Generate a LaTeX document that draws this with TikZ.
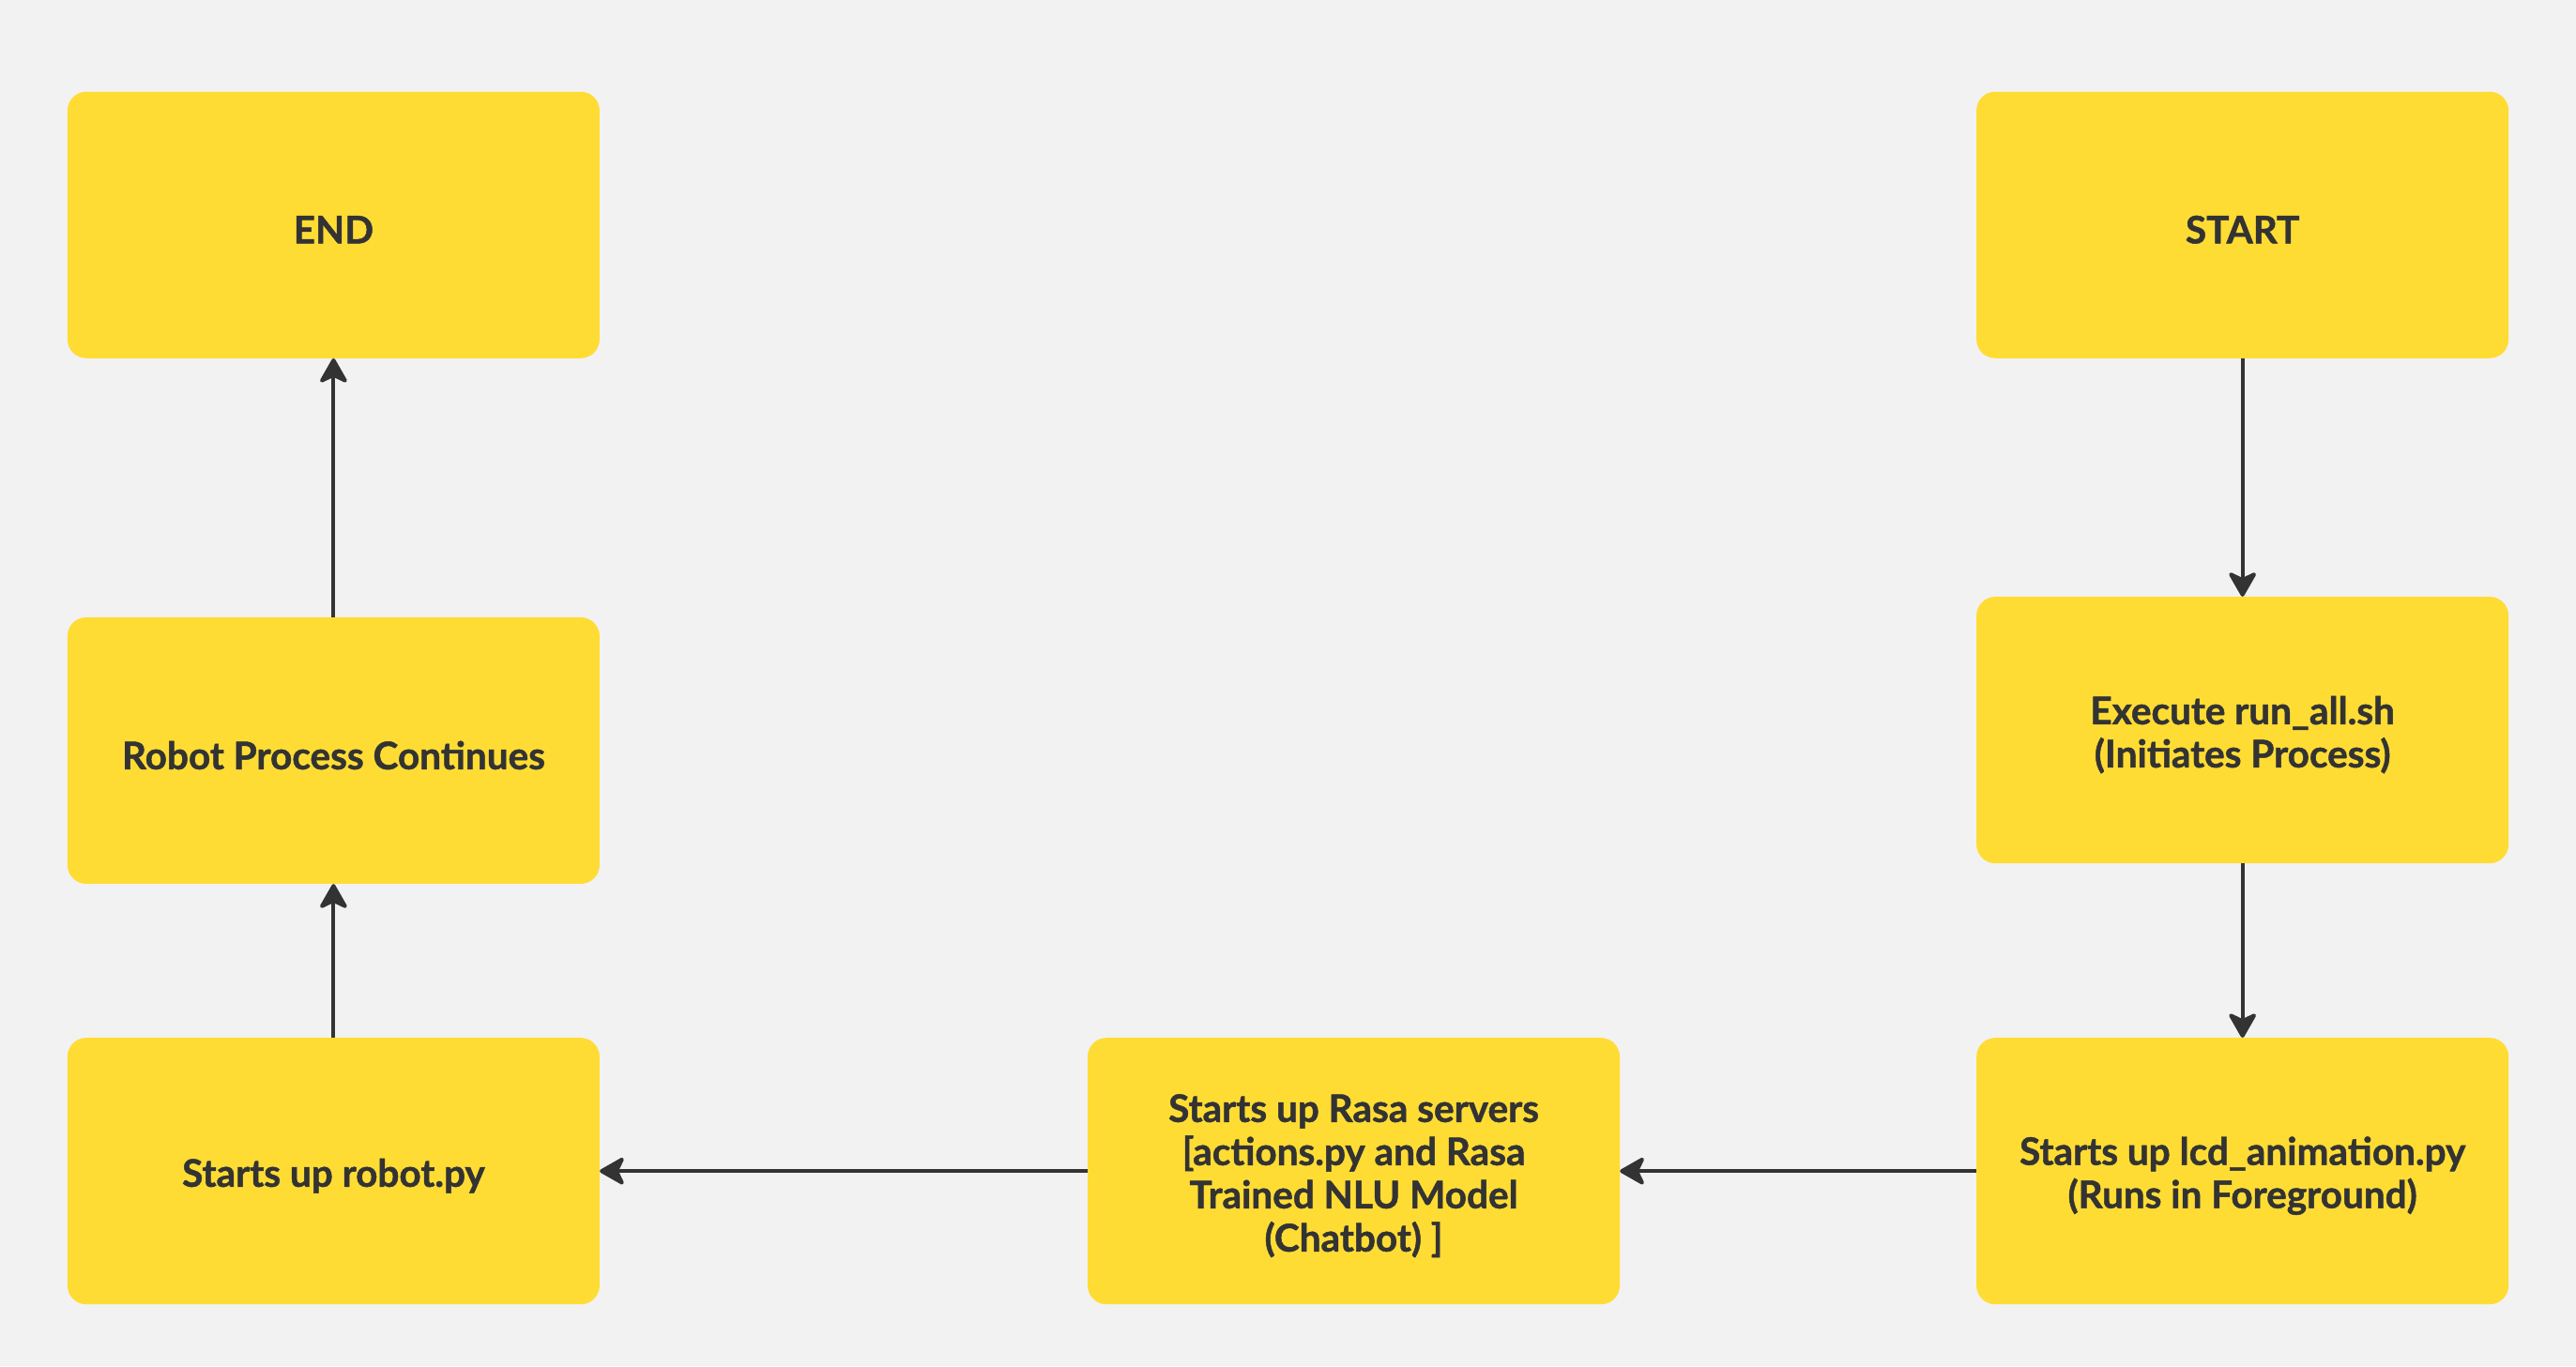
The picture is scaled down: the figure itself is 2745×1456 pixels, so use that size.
\documentclass[tikz,border=0pt]{standalone}
\usepackage{fontspec}
\setmainfont{Lato}[BoldFeatures={FakeBold=1.2}]
\usetikzlibrary{arrows.meta}
\definecolor{bg}{HTML}{F2F2F2}
\definecolor{boxy}{HTML}{FFDC34}
\definecolor{ink}{HTML}{333333}
\tikzset{
  flowbox/.style={fill=boxy, draw=none, rounded corners=20pt, minimum width=567pt, minimum height=284pt, inner sep=0pt},
  flowtext/.style={align=center, text=ink, inner sep=0pt, yshift=-5pt, font=\fontsize{40.5}{46}\selectfont\bfseries},
  flowarrow/.style={draw=ink, line width=4pt, -{Stealth[length=30pt, width=34pt, inset=8pt, round]}}
}
\begin{document}
\begin{tikzpicture}[x=1pt,y=1pt]
\fill[bg] (0,0) rectangle (2745,1456);
\useasboundingbox (0,0) rectangle (2745,1456);
\node[flowbox, label={[flowtext]center:END}] (endn) at (355.4,1216.2) {};
\node[flowbox, label={[flowtext]center:Robot Process Continues}] (cont) at (355.4,656) {};
\node[flowbox, label={[flowtext]center:Starts up robot.py}] (robot) at (355.4,207.8) {};
\node[flowbox, label={[flowtext]center:{Starts up Rasa servers\\{}[actions.py and Rasa\\Trained NLU Model\\(Chatbot) ]}}] (rasa) at (1442.5,207.8) {};
\node[flowbox, label={[flowtext]center:{Starts up lcd\_animation.py\\(Runs in Foreground)}}] (lcd) at (2389.6,207.8) {};
\node[flowbox, label={[flowtext]center:{Execute run\_all.sh\\(Initiates Process)}}] (exec) at (2389.6,677.9) {};
\node[flowbox, label={[flowtext]center:START}] (start) at (2389.6,1216.2) {};
\draw[flowarrow] (start) -- (exec);
\draw[flowarrow] (exec) -- (lcd);
\draw[flowarrow] (lcd) -- (rasa);
\draw[flowarrow] (rasa) -- (robot);
\draw[flowarrow] (robot) -- (cont);
\draw[flowarrow] (cont) -- (endn);
\end{tikzpicture}
\end{document}
